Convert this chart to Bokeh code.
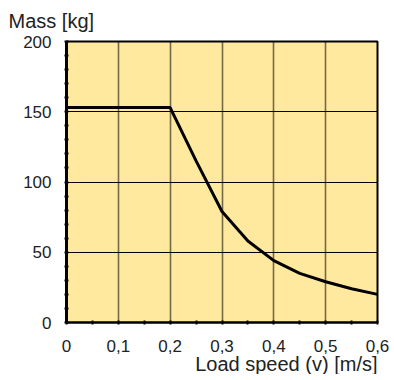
from bokeh.plotting import figure
from bokeh.models import Range1d, FixedTicker, Title
from bokeh.embed import file_html
from bokeh.resources import INLINE

# Data
speed = [0.0, 0.2, 0.25, 0.3, 0.35, 0.4, 0.45, 0.5, 0.55, 0.6]
mass = [153, 153, 115, 79, 58, 44, 35, 29, 24, 20]

x_ticks = [0, 0.1, 0.2, 0.3, 0.4, 0.5, 0.6]
x_tick_labels = ["0", "0,1", "0,2", "0,3", "0,4", "0,5", "0,6"]
x_minor = [0.05, 0.15, 0.25, 0.35, 0.45, 0.55]
y_ticks = [0, 50, 100, 150, 200]
y_minor = [10, 20, 30, 40, 60, 70, 80, 90, 110, 120, 130, 140, 160, 170, 180, 190]

FONT = "Liberation Sans"
TXT = "#222222"

p = figure(width=390, height=374, output_backend="svg", toolbar_location=None,
           x_range=Range1d(0, 0.6), y_range=Range1d(0, 200),
           min_border_left=66, min_border_right=13, min_border_top=41, min_border_bottom=52)

p.background_fill_color = "#FFE99E"
p.border_fill_color = "white"
p.outline_line_color = "black"
p.outline_line_width = 2

xt = FixedTicker(ticks=x_ticks, minor_ticks=x_minor)
yt = FixedTicker(ticks=y_ticks, minor_ticks=y_minor)
p.xaxis.ticker = xt
p.yaxis.ticker = yt
p.xaxis.major_label_overrides = {t: l for t, l in zip(x_ticks, x_tick_labels)}

for ax in (p.xaxis[0], p.yaxis[0]):
    ax.axis_line_color = "black"
    ax.major_tick_line_color = "black"
    ax.minor_tick_line_color = "black"
    ax.major_tick_line_width = 2
    ax.minor_tick_line_width = 2
    ax.major_tick_in = 2
    ax.major_tick_out = 2
    ax.minor_tick_in = 2
    ax.minor_tick_out = 2
    ax.major_label_text_font = FONT
    ax.major_label_text_font_size = "17px"
    ax.major_label_text_color = TXT

p.yaxis.axis_line_width = 3
p.xaxis.axis_line_width = 2
p.xaxis.major_label_standoff = 15
p.yaxis.major_label_standoff = 13

p.xgrid.ticker = xt
p.ygrid.ticker = yt
p.xgrid.grid_line_color = "black"
p.xgrid.grid_line_alpha = 0.55
p.xgrid.grid_line_width = 1.6
p.ygrid.grid_line_color = "black"
p.ygrid.grid_line_width = 1

p.line(speed, mass, line_color="black", line_width=3)

p.add_layout(Title(text="Mass [kg]", align="left", offset=-58, standoff=15,
                   vertical_align="top",
                   text_font=FONT, text_font_size="20px", text_color=TXT,
                   text_font_style="normal"), "above")
p.add_layout(Title(text="Load speed (v) [m/s]", align="right", standoff=-8,
                   text_font=FONT, text_font_size="20px", text_color=TXT,
                   text_font_style="normal"), "below")

open("out.html", "w").write(file_html(p, INLINE))
